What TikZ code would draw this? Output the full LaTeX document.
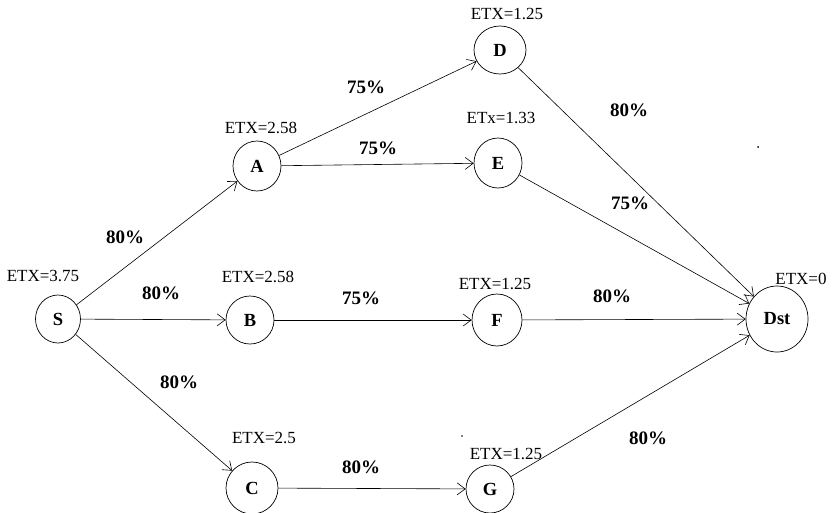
\documentclass[tikz,border=0pt]{standalone}
\usepackage{fontspec}
\setmainfont{Liberation Serif}
\usetikzlibrary{arrows.meta,shapes.geometric}
\begin{document}
\begin{tikzpicture}[x=1pt,y=-1pt,
  station/.style={draw, ellipse, inner sep=0pt, line width=0.7pt,
    font=\fontsize{18.5}{18.5}\selectfont\bfseries},
  etx/.style={inner sep=0pt, font=\fontsize{17}{17}\selectfont},
  prob/.style={inner sep=0pt, font=\fontsize{19}{19}\selectfont\bfseries},
  link/.style={line width=0.6pt, -{Straight Barb[length=8pt,width=12pt]}}]
\useasboundingbox[fill=white] (0,0) rectangle (832,512);

% stations
\node[station, minimum width=45pt, minimum height=48pt] (S) at (58,319) {S};
\node[station, minimum width=48pt, minimum height=50pt] (A) at (257,166) {A};
\node[station, minimum width=48pt, minimum height=48pt] (B) at (250,320) {B};
\node[station, minimum width=52pt, minimum height=52pt] (C) at (252,488) {C};
\node[station, minimum width=52pt, minimum height=48pt] (D) at (500,50) {D};
\node[station, minimum width=48pt, minimum height=50pt] (E) at (498,163) {E};
\node[station, minimum width=50pt, minimum height=52pt] (F) at (497,320) {F};
\node[station, minimum width=48pt, minimum height=48pt] (G) at (490,489) {G};
\node[station, minimum width=62pt, minimum height=66pt] (Dst) at (777,319) {Dst};

% expected transmission counts
\node[etx] (lS) at (43,276) {ETX=3.75};
\node[etx] (lA) at (261,128) {ETX=2.58};
\node[etx] (lB) at (258,277) {ETX=2.58};
\node[etx] (lC) at (264,438) {ETX=2.5};
\node[etx] (lD) at (507,14) {ETX=1.25};
\node[etx] (lE) at (501,118) {ETx=1.33};
\node[etx] (lF) at (495,284) {ETX=1.25};
\node[etx] (lG) at (506,454) {ETX=1.25};
\node[etx] (lDst) at (801,279) {ETX=0};

% links
\draw[link] (S) -- (A);
\draw[link] (S) -- (B);
\draw[link] (S) -- (C);
\draw[link] (A) -- (D);
\draw[link] (A) -- (E);
\draw[link] (B) -- (F);
\draw[link] (C) -- (G);
\draw[link] (D) -- (Dst);
\draw[link] (E) -- (Dst);
\draw[link] (F) -- (Dst);
\draw[link] (G) -- (Dst);

% delivery probabilities
\node[prob] (pSA) at (125,237) {80\%};
\node[prob] (pSB) at (161,293) {80\%};
\node[prob] (pSC) at (179,382) {80\%};
\node[prob] (pAD) at (366,87) {75\%};
\node[prob] (pAE) at (378,148) {75\%};
\node[prob] (pBF) at (361,298) {75\%};
\node[prob] (pCG) at (361,467) {80\%};
\node[prob] (pDDst) at (629,110) {80\%};
\node[prob] (pEDst) at (630,203) {75\%};
\node[prob] (pFDst) at (612,296) {80\%};
\node[prob] (pGDst) at (648,438) {80\%};

% stray marks
\fill (758,147) circle (1pt);
\fill (462,436) circle (0.9pt);
\end{tikzpicture}
\end{document}
